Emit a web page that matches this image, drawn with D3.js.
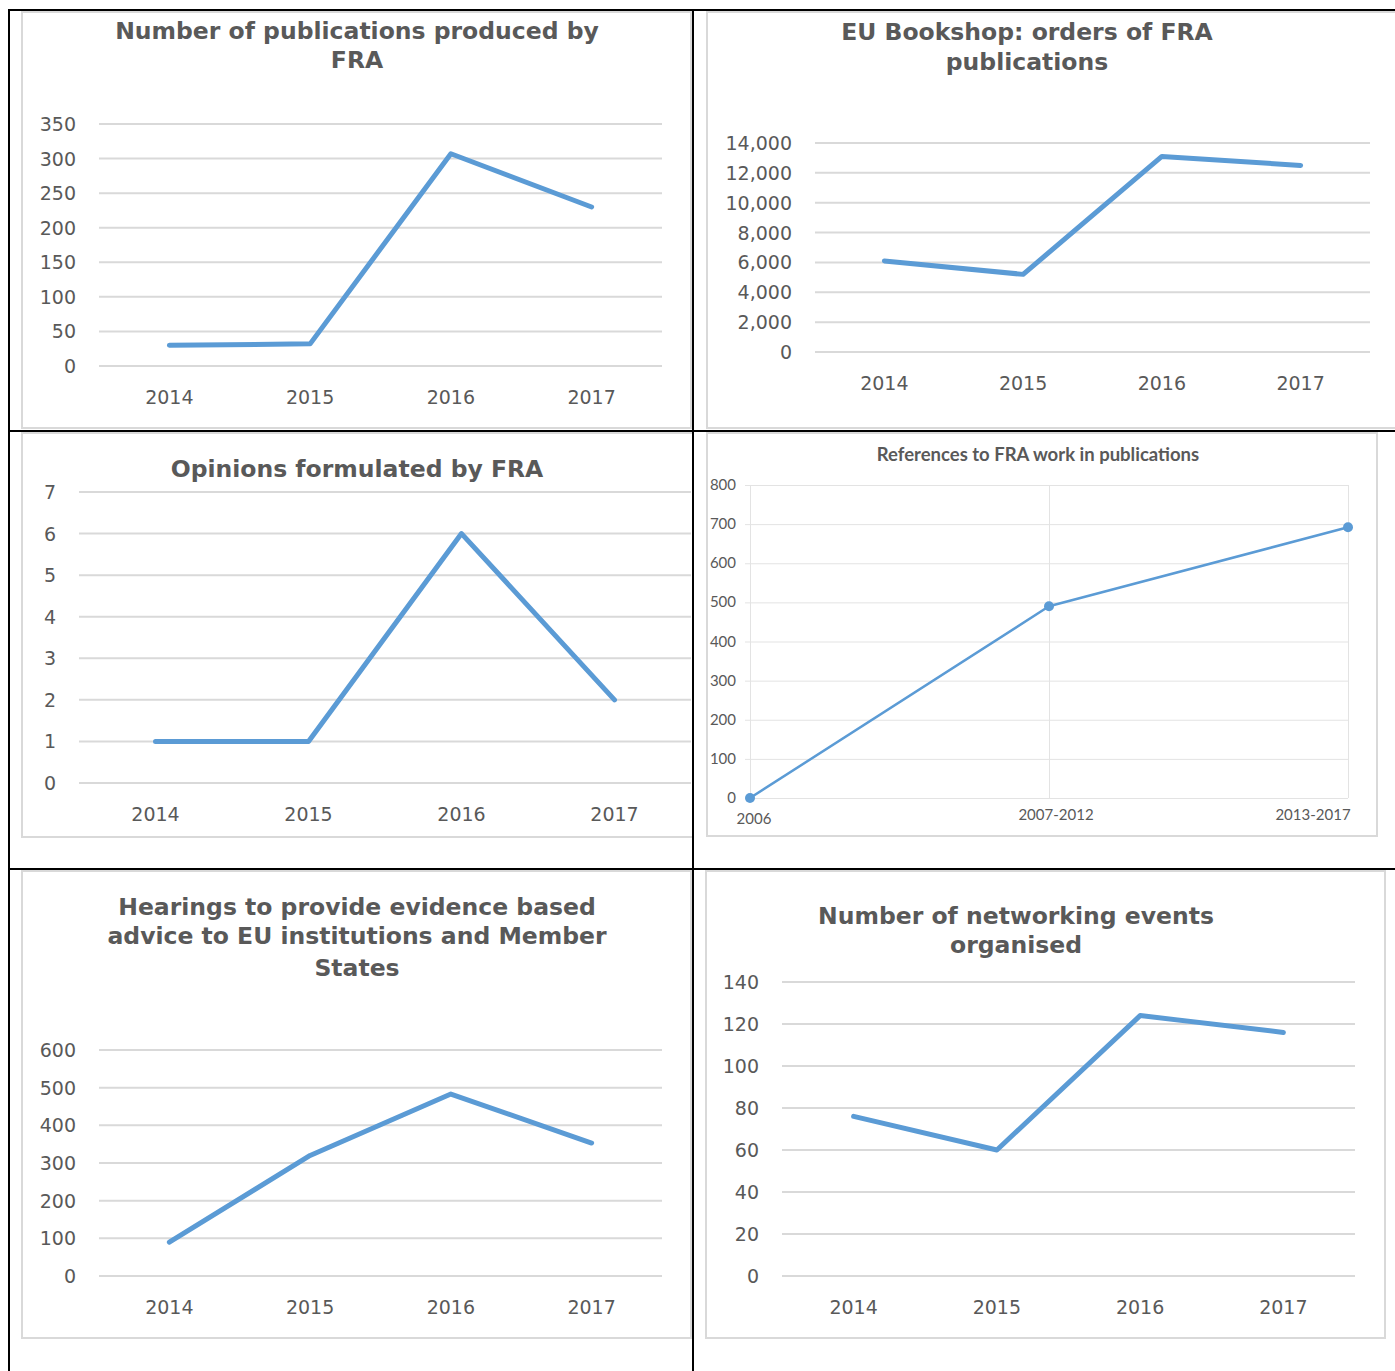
<!DOCTYPE html>
<html>
<head>
<meta charset="utf-8">
<script src="https://cdn.jsdelivr.net/npm/d3@7/dist/d3.min.js"></script>
<style>
	body { margin: 0; background: #fff; }
	svg { display: block; }
</style>
</head>
<body>
<div id="page"></div>
<script>
// FRA activity charts - six small line charts in a table

// DATA
var years = ["2014", "2015", "2016", "2017"]
, publications = [30, 32, 307, 230]
, bookshopOrders = [6100, 5200, 13100, 12500]
, opinions = [1, 1, 6, 2]
, hearings = [90, 320, 483, 353]
, networkingEvents = [76, 60, 124, 116]
, refPeriods = ["2006", "2007-2012", "2013-2017"]
, references = [0, 490, 692]

// tick labels
, pubTicks = [0, 50, 100, 150, 200, 250, 300, 350]
, orderTicks = [0, 2000, 4000, 6000, 8000, 10000, 12000, 14000]
, opinionTicks = [0, 1, 2, 3, 4, 5, 6, 7]
, hearingTicks = [0, 100, 200, 300, 400, 500, 600]
, eventTicks = [0, 20, 40, 60, 80, 100, 120, 140]
, refTicks = [0, 100, 200, 300, 400, 500, 600, 700, 800]

// colours
, blue = "#5B9BD5"
, grid = "#d9d9d9"
, txt = "#595959";

var W = 1395, H = 1371;

var svg = d3.select("#page").append("svg")
	.attr("width", W)
	.attr("height", H);

// chart frames first (black table lines are drawn on top later)
function bigChart(o) {
	var g = svg.append("g");

	g.append("rect")
		.attr("x", o.box[0]).attr("y", o.box[1])
		.attr("width", o.box[2] - o.box[0]).attr("height", o.box[3] - o.box[1])
		.attr("fill", "#fff")
		.attr("stroke", grid)
		.attr("stroke-width", 2);

	var x = d3.scalePoint()
		.domain(years)
		.range([o.left, o.right])
		.padding(0.5);

	var y = d3.scaleLinear()
		.domain([0, o.max])
		.range([o.bottom, o.top]);

	// gridlines
	g.selectAll("line.grid")
		.data(o.ticks)
		.enter()
		.append("line")
		.attr("class", "grid")
		.attr("x1", o.left).attr("x2", o.right)
		.attr("y1", function(d) { return y(d); })
		.attr("y2", function(d) { return y(d); })
		.attr("stroke", grid)
		.attr("stroke-width", 2);

	// y labels
	g.selectAll("text.ylab")
		.data(o.ticks)
		.enter()
		.append("text")
		.attr("class", "ylab")
		.attr("x", o.left - 23)
		.attr("y", function(d) { return y(d) + 7; })
		.attr("text-anchor", "end")
		.attr("font-family", "DejaVu Sans")
		.attr("font-size", 19)
		.attr("fill", txt)
		.text(function(d) { return o.fmt ? o.fmt(d) : d; });

	// x labels
	g.selectAll("text.xlab")
		.data(years)
		.enter()
		.append("text")
		.attr("class", "xlab")
		.attr("x", function(d) { return x(d); })
		.attr("y", o.bottom + 38)
		.attr("text-anchor", "middle")
		.attr("font-family", "DejaVu Sans")
		.attr("font-size", 19)
		.attr("fill", txt)
		.text(function(d) { return d; });

	var line = d3.line()
		.x(function(d, i) { return x(years[i]); })
		.y(function(d) { return y(d); });

	g.append("path")
		.datum(o.values)
		.attr("d", line)
		.attr("fill", "none")
		.attr("stroke", blue)
		.attr("stroke-width", 5)
		.attr("stroke-linecap", "round")
		.attr("stroke-linejoin", "round");

	// title
	g.append("text")
		.attr("x", o.titleX)
		.attr("font-family", "DejaVu Sans")
		.attr("font-weight", "bold")
		.attr("font-size", 23.5)
		.attr("fill", txt)
		.attr("text-anchor", "middle")
		.selectAll("tspan")
		.data(o.title)
		.enter()
		.append("tspan")
		.attr("x", o.titleX)
		.attr("y", function(d, i) { return o.titleY[i]; })
		.text(function(d) { return d; });
}

var comma = d3.format(",");

bigChart({
	box: [22, 12, 691, 428],
	left: 99, right: 662, top: 124, bottom: 366,
	max: 350, ticks: pubTicks, values: publications,
	title: ["Number of publications produced by", "FRA"],
	titleX: 357, titleY: [39, 68]
});

bigChart({
	box: [707, 12, 1400, 428],
	left: 815, right: 1370, top: 143, bottom: 352,
	max: 14000, ticks: orderTicks, values: bookshopOrders, fmt: comma,
	title: ["EU Bookshop: orders of FRA", "publications"],
	titleX: 1027, titleY: [40, 70]
});

bigChart({
	box: [22, 433, 693, 837],
	left: 79, right: 691, top: 492, bottom: 783,
	max: 7, ticks: opinionTicks, values: opinions,
	title: ["Opinions formulated by FRA"],
	titleX: 357, titleY: [477]
});

bigChart({
	box: [22, 871, 691, 1338],
	left: 99, right: 662, top: 1050, bottom: 1276,
	max: 600, ticks: hearingTicks, values: hearings,
	title: ["Hearings to provide evidence based", "advice to EU institutions and Member", "States"],
	titleX: 357, titleY: [915, 944, 976]
});

bigChart({
	box: [706, 871, 1385, 1338],
	left: 782, right: 1355, top: 982, bottom: 1276,
	max: 140, ticks: eventTicks, values: networkingEvents,
	title: ["Number of networking events", "organised"],
	titleX: 1016, titleY: [924, 953]
});

// References chart (different style: thin line with markers)
function refChart() {
	var g = svg.append("g")
	, left = 750, right = 1348, top = 485, bottom = 798;

	g.append("rect")
		.attr("x", 707).attr("y", 433)
		.attr("width", 1377 - 707).attr("height", 836 - 433)
		.attr("fill", "#fff")
		.attr("stroke", grid)
		.attr("stroke-width", 2);

	var x = d3.scalePoint()
		.domain(refPeriods)
		.range([left, right]);

	var y = d3.scaleLinear()
		.domain([0, 800])
		.range([bottom, top]);

	g.selectAll("line.hgrid")
		.data(refTicks)
		.enter()
		.append("line")
		.attr("x1", left - 5).attr("x2", right)
		.attr("y1", function(d) { return y(d) + 0.5; })
		.attr("y2", function(d) { return y(d) + 0.5; })
		.attr("stroke", "#e3e3e3")
		.attr("stroke-width", 1);

	g.selectAll("line.vgrid")
		.data(refPeriods)
		.enter()
		.append("line")
		.attr("x1", function(d) { return x(d) + 0.5; })
		.attr("x2", function(d) { return x(d) + 0.5; })
		.attr("y1", top).attr("y2", bottom)
		.attr("stroke", "#e3e3e3")
		.attr("stroke-width", 1);

	g.selectAll("text.ylab")
		.data(refTicks)
		.enter()
		.append("text")
		.attr("x", left - 14)
		.attr("y", function(d) { return y(d) + 5; })
		.attr("text-anchor", "end")
		.attr("font-family", "Lato")
		.attr("font-size", 15)
		.attr("fill", txt)
		.text(function(d) { return d; });

	// excel nudges the outer labels inside the plot
	g.selectAll("text.xlab")
		.data(refPeriods)
		.enter()
		.append("text")
		.attr("x", function(d, i) { return x(d) + [4, 7, -35][i]; })
		.attr("y", function(d, i) { return i === 0 ? 824 : 820; })
		.attr("text-anchor", "middle")
		.attr("font-family", "Lato")
		.attr("font-size", 15)
		.attr("fill", txt)
		.text(function(d) { return d; });

	var line = d3.line()
		.x(function(d, i) { return x(refPeriods[i]); })
		.y(function(d) { return y(d); });

	g.append("path")
		.datum(references)
		.attr("d", line)
		.attr("fill", "none")
		.attr("stroke", blue)
		.attr("stroke-width", 2.5)
		.attr("stroke-linejoin", "round");

	g.selectAll("circle")
		.data(references)
		.enter()
		.append("circle")
		.attr("cx", function(d, i) { return x(refPeriods[i]); })
		.attr("cy", function(d) { return y(d); })
		.attr("r", 5)
		.attr("fill", blue);

	g.append("text")
		.attr("x", 1038)
		.attr("y", 461)
		.attr("text-anchor", "middle")
		.attr("font-family", "Lato")
		.attr("font-weight", "bold")
		.attr("font-size", 18.5)
		.attr("fill", txt)
		.text("References to FRA work in publications");
}
refChart();

// table borders
var borders = [
	[8, 10, W, 10],
	[9, 9, 9, H],
	[693, 10, 693, H],
	[8, 431, W, 431],
	[8, 869, W, 869]
];
svg.selectAll("line.border")
	.data(borders)
	.enter()
	.append("line")
	.attr("x1", function(d) { return d[0]; })
	.attr("y1", function(d) { return d[1]; })
	.attr("x2", function(d) { return d[2]; })
	.attr("y2", function(d) { return d[3]; })
	.attr("stroke", "#000")
	.attr("stroke-width", 2);
</script>
</body>
</html>
